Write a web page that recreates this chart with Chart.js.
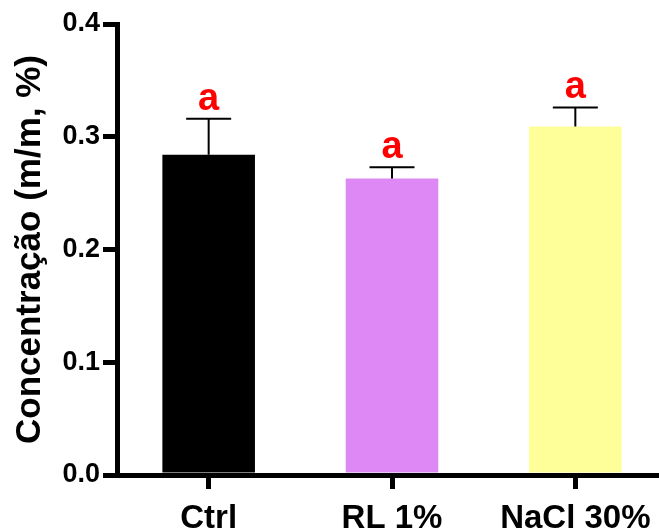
<!DOCTYPE html>
<html>
<head>
<meta charset="utf-8">
<script src="https://cdn.jsdelivr.net/npm/chart.js@4"></script>
<style>
  html, body { margin: 0; padding: 0; background: #fff; }
  #wrap { width: 659px; height: 529px; overflow: hidden; position: relative; }
  #chart { position: absolute; left: 0; top: 0; }
</style>
</head>
<body>
<div id="wrap"><canvas id="chart" width="672" height="548" style="width:672px;height:548px"></canvas></div>
<script>
// data
var categories = ['Ctrl', 'RL 1%', 'NaCl 30%'];
var means = [0.284, 0.263, 0.309];
var errors = [0.032, 0.010, 0.017];
var letters = ['a', 'a', 'a'];
var barColors = ['#000000', '#DD88F5', '#FFFF99'];
var yTitle = 'Concentração (m/m, %)';

var FONT = '"Liberation Sans", Arial, Helvetica, sans-serif';

// error bars (upper only) and significance letters
var errorBars = {
    id: 'errorBars',
    afterDatasetsDraw: function(chart) {
        var ctx = chart.ctx;
        var meta = chart.getDatasetMeta(0);
        var y = chart.scales.y;
        meta.data.forEach(function(bar, i) {
            var top = y.getPixelForValue(means[i] + errors[i]);
            ctx.save();
            ctx.strokeStyle = '#000';
            ctx.lineWidth = 2;
            ctx.beginPath();
            ctx.moveTo(bar.x, bar.y);
            ctx.lineTo(bar.x, top);
            ctx.moveTo(bar.x - 22.5, top);
            ctx.lineTo(bar.x + 22.5, top);
            ctx.stroke();
            ctx.fillStyle = '#FF0000';
            ctx.font = 'bold 38px ' + FONT;
            ctx.textAlign = 'center';
            ctx.textBaseline = 'alphabetic';
            ctx.fillText(letters[i], bar.x, top - 9);
            ctx.restore();
        });
    }
};

var ctx = document.getElementById('chart').getContext('2d');
var myBarChart = new Chart(ctx, {
    type: 'bar',
    data: {
        labels: categories,
        datasets: [{
            data: means,
            backgroundColor: barColors,
            borderWidth: 0,
            barPercentage: 0.505,
            categoryPercentage: 1
        }]
    },
    options: {
        responsive: false,
        animation: false,
        devicePixelRatio: 1,
        layout: { padding: { top: 24, right: 5, left: 0, bottom: 0 } },
        plugins: { legend: { display: false }, tooltip: { enabled: false } },
        scales: {
            x: {
                grid: { display: true, drawOnChartArea: false, offset: false, color: '#000', lineWidth: 5, tickLength: 14 },
                border: { display: true, color: '#000', width: 5 },
                ticks: { color: '#000', font: { family: FONT, size: 33, weight: 'bold' }, padding: 10, maxRotation: 0 },
                afterFit: function(scale) { scale.height = 73; }
            },
            y: {
                min: 0,
                max: 0.4,
                grid: { display: true, drawOnChartArea: false, color: '#000', lineWidth: 5, tickLength: 14 },
                border: { display: true, color: '#000', width: 5 },
                ticks: {
                    stepSize: 0.1,
                    color: '#000',
                    padding: 3,
                    font: { family: FONT, size: 27, weight: 'bold' },
                    callback: function(v) { return v.toFixed(1); }
                },
                title: {
                    display: true,
                    text: yTitle,
                    color: '#000',
                    font: { family: FONT, size: 35, weight: 'bold' },
                    padding: { top: 9, bottom: 0 }
                },
                afterFit: function(scale) { scale.width = 117; }
            }
        }
    },
    plugins: [errorBars]
});
</script>
</body>
</html>
